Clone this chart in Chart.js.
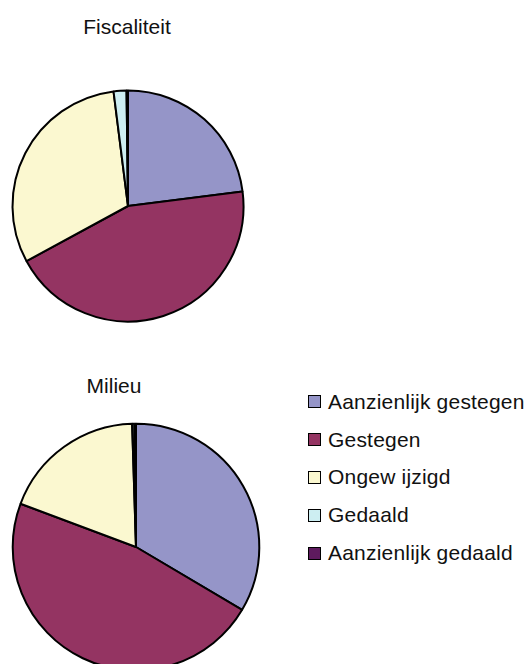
<!DOCTYPE html>
<html>
<head>
<meta charset="utf-8">
<script src="https://cdn.jsdelivr.net/npm/chart.js@4"></script>
<style>
  html, body { margin: 0; padding: 0; background: #fff; width: 529px; height: 664px; overflow: hidden; }
  body { position: relative; font-family: "Liberation Sans", Arial, sans-serif; color: #111; }
  .title { position: absolute; font-size: 21px; text-align: center; width: 200px; }
  .box { position: absolute; }
  #legend { position: absolute; left: 308px; top: 383px; }
  .item { display: flex; align-items: center; height: 37.8px; font-size: 21px; letter-spacing: 0.2px; }
  .swatch { width: 11px; height: 11px; border: 1.5px solid #000; margin-right: 7px; }
</style>
</head>
<body>
<div class="title" style="left:27px; top:15px;">Fiscaliteit</div>
<div class="title" style="left:14px; top:374px;">Milieu</div>
<div class="box" style="left:8px; top:86px; width:240px; height:240px;"><canvas id="pie1"></canvas></div>
<div class="box" style="left:6px; top:417px; width:260px; height:260px;"><canvas id="pie2"></canvas></div>
<div id="legend"></div>
<script>
const categories = ["Aanzienlijk gestegen", "Gestegen", "Ongew ijzigd", "Gedaald", "Aanzienlijk gedaald"];
const colors = ["#9595C8", "#943462", "#FBF8D0", "#CDEEF2", "#5E1A5E"];
const fiscaliteit = [23, 44.1, 30.9, 1.8, 0.2];
const milieu = [33.5, 47.2, 18.8, 0.3, 0.2];

function pie(id, values, radius) {
  new Chart(document.getElementById(id), {
    type: "pie",
    data: {
      labels: categories,
      datasets: [
        {
          data: values,
          backgroundColor: colors,
          borderColor: "#000",
          borderWidth: 2,
          radius: radius,
        },
      ],
    },
    options: {
      responsive: true,
      maintainAspectRatio: false,
      animation: false,
      layout: { padding: 0 },
      plugins: {
        legend: { display: false },
        tooltip: { enabled: false },
      },
    },
  });
}
pie("pie1", fiscaliteit, 115.5);
pie("pie2", milieu, 123.3);

const legend = document.getElementById("legend");
categories.forEach((c, i) => {
  const row = document.createElement("div");
  row.className = "item";
  row.innerHTML = '<span class="swatch" style="background:' + colors[i] + '"></span><span>' + c + "</span>";
  legend.appendChild(row);
});
</script>
</body>
</html>
